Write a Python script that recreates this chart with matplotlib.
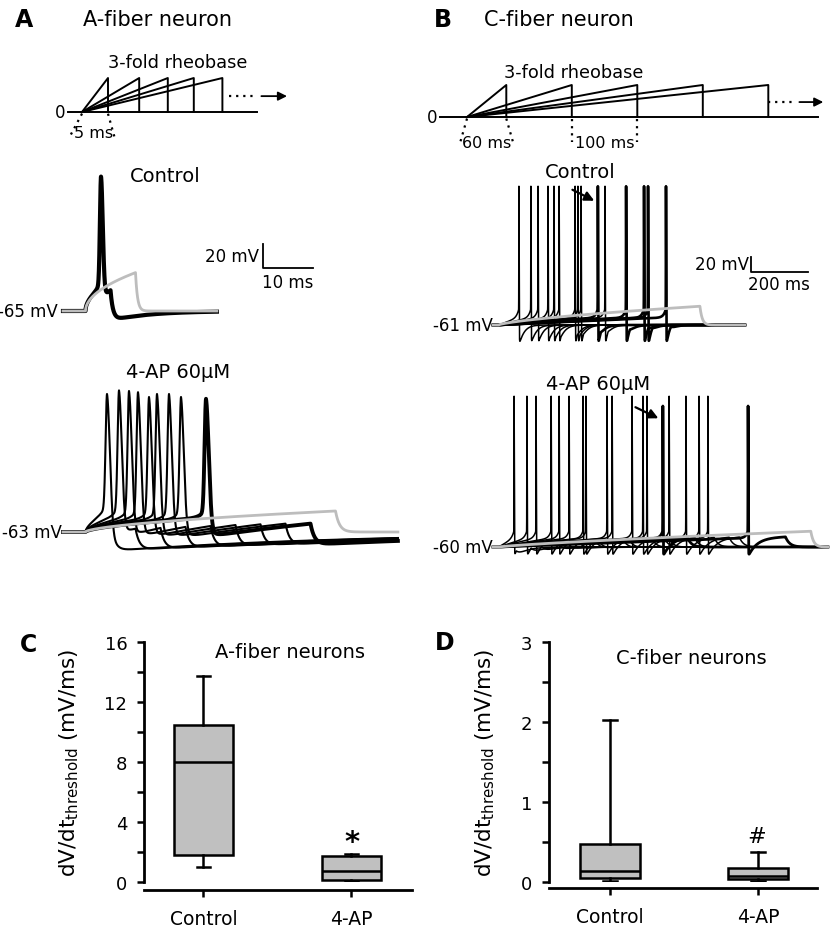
import numpy as np
import matplotlib.pyplot as plt
from matplotlib.ticker import MultipleLocator

W, H = 830, 929
plt.rcParams['font.family'] = 'DejaVu Sans'

# ---- stimulus protocols (ramp duration in ms, height in x rheobase) ----
stim_a_dur = [5, 11, 16.5, 21.5, 27]
stim_b_dur = [60, 160, 260, 360, 460]
STIM_HEIGHT = 3

# ---- A-fiber neuron traces (ms, mV) ----
A_CTRL_BASE = -65
A_CTRL_ON = 4.5
a_ctrl_dur = [5, 10]
a_ctrl_amp = [25, 32]
a_ctrl_spike_t = [7.6, None]
a_ctrl_peak = [47, None]

A_4AP_BASE = -63
A_4AP_ON = 4.5
a_4ap_dur = [5, 10, 15, 20, 25, 30, 35, 40, 45, 50]
a_4ap_spike_t = [8.8, 11.2, 13.2, 15.0, 17.2, 18.8, 21.2, 23.6, 28.6, None]
a_4ap_peak = [52, 55, 54.5, 53.5, 49.5, 52, 52, 49.5, 48, None]

# ---- C-fiber neuron traces (ms, mV) ----
C_CTRL_BASE = -61
C_ON = 20
c_ctrl_spike_t = [91, 133, 158, 193, 214, 232, 288, 298, 309, 368, 393, 467, 530, 544, 607]
c_ctrl_thick = [368, 467, 530, 544, 607]
C_CTRL_PEAK = 124
C_CTRL_GRAY = (706, 25)

C_4AP_BASE = -60
c_4ap_spike_t = [74, 119, 151, 204, 232, 267, 316, 326, 400, 418, 488, 526, 540,
                 596, 618, 677, 723, 754, 895]
c_4ap_thick = [596, 895]
C_4AP_PEAK = 141
C_4AP_PEAK_THICK = 128
C_4AP_GRAY = (1095, 21)

# ---- dV/dt at threshold (mV/ms): whislo, q1, median, q3, whishi ----
groups = ['Control', '4-AP']
a_fiber_stats = [(1.0, 1.8, 8.0, 10.5, 13.75), (0.05, 0.13, 0.73, 1.73, 1.88)]
c_fiber_stats = [(0.015, 0.05, 0.14, 0.47, 2.03), (0.015, 0.04, 0.07, 0.17, 0.37)]

GRAY = '#bdbdbd'
fig = plt.figure(figsize=(W / 100, H / 100), dpi=100)


def px_axes(box, xa, ya, sx, sy):
    # axes placed in pixel box, data mapped through anchor points and px/unit
    x0, y0, x1, y1 = box
    ax = fig.add_axes([x0 / W, 1 - y1 / H, (x1 - x0) / W, (y1 - y0) / H])
    ax.set_xlim(xa[1] + (x0 - xa[0]) / sx, xa[1] + (x1 - xa[0]) / sx)
    ax.set_ylim(ya[1] - (y1 - ya[0]) / sy, ya[1] + (ya[0] - y0) / sy)
    ax.axis('off')
    return ax


def ftext(x, y, s, **kw):
    kw.setdefault('ha', 'center')
    kw.setdefault('va', 'center')
    fig.text(x / W, 1 - y / H, s, **kw)


def sweep(t, base, on, dur, amp, expo, tau_off, spike=None):
    s = np.clip((t - on) / dur, 0, None)
    p = amp * np.minimum(s, 1) ** expo
    after = t > on + dur
    p = np.where(after, amp * np.exp(-np.clip(t - on - dur, 0, None) / tau_off), p)
    v = base + p
    if spike is not None:
        ts, peak, wr, wf, pre, tpre, ahp, tahp = spike
        d = t - ts
        dn = np.minimum(d, 0)
        dp = np.maximum(d, 0)
        vth = np.interp(ts, t, v) + pre
        h = peak - vth
        rise = pre * np.exp(dn / tpre) + h * np.exp(-(dn / wr) ** 2)
        fall = (h + pre) * np.exp(-(dp / wf) ** 2) - ahp * (1 - np.exp(-dp / wf)) * np.exp(-dp / tahp)
        v = v + np.where(d < 0, rise, fall)
    return v


def stim_panel(box, x0px, sx, y0px, sy, durs, t_left, t_right, dots, marks):
    ax = px_axes(box, (x0px, 0), (y0px, 0), sx, sy)
    ax.plot([t_left, t_right], [0, 0], color='k', lw=1.4)
    for d in durs:
        ax.plot([0, d, d], [0, STIM_HEIGHT, 0], color='k', lw=1.4)
    ax.plot(dots, [1.4, 1.4], color='k', lw=1.6, ls=(0, (1, 2.2)))
    ax.annotate('', xy=(dots[1] + (dots[1] - dots[0]) * 1.45, 1.4),
                xytext=(dots[1] + (dots[1] - dots[0]) * 0.2, 1.4),
                arrowprops=dict(arrowstyle='-|>', color='k', lw=1.3, mutation_scale=13))
    for tm, off in marks:
        ax.plot([tm, tm + off], [-0.15, -2.3], color='k', lw=1.6, ls=(0, (1, 2.2)))
    ax.text(t_left - 3 / sx, 0, '0', ha='right', va='center', fontsize=12)
    return ax


# ---------------- panel A/B stimulus ----------------
stim_panel((30, 40, 320, 150), 82, 5.2, 113, 11.33, stim_a_dur, -2.7, 33.6,
           [28.2, 33.0], [(0, -2.5), (5, 1.3)])
stim_panel((420, 40, 830, 160), 467, 0.655, 118, 10.67, stim_b_dur, -41, 536,
           [460, 496], [(0, -10), (60, 10), (160, 0), (260, 0)])

# ---------------- A control ----------------
ax = px_axes((0, 150, 340, 345), (63, 0), (312, A_CTRL_BASE), 5.0, 1.2)
t = np.arange(0, 30.8, 0.02)
for dur, amp, ts, pk in zip(a_ctrl_dur, a_ctrl_amp, a_ctrl_spike_t, a_ctrl_peak):
    if ts is None:
        continue
    v = sweep(t, A_CTRL_BASE, A_CTRL_ON, dur, amp, 0.5, 0.5,
              spike=(ts, pk, 0.3, 0.5, 8, 0.5, 10, 8))
    ax.plot(t, v, color='k', lw=3.0, solid_joinstyle='round')
for dur, amp, ts in zip(a_ctrl_dur, a_ctrl_amp, a_ctrl_spike_t):
    if ts is None:
        ax.plot(t, sweep(t, A_CTRL_BASE, A_CTRL_ON, dur, amp, 0.5, 0.4), color=GRAY, lw=2.0)
ax.text(-1, A_CTRL_BASE, '-65 mV', ha='right', va='center', fontsize=12)
ax.plot([40, 40, 50], [-9, -29, -29], color='k', lw=1.3)
ax.text(39.2, -19, '20 mV', ha='right', va='center', fontsize=12)
ax.text(45, -33, '10 ms', ha='center', va='top', fontsize=12)

# ---------------- A 4-AP ----------------
ax = px_axes((0, 370, 410, 570), (63, 0), (533, A_4AP_BASE), 5.0, 1.2)
t = np.arange(0, 67, 0.02)
for dur, ts, pk in zip(a_4ap_dur, a_4ap_spike_t, a_4ap_peak):
    if ts is None:
        continue
    v = sweep(t, A_4AP_BASE, A_4AP_ON, dur, 17.5, 0.6, 0.8,
              spike=(ts, pk, 0.4, 0.8, 8, 1.0, 16, 50))
    ax.plot(t, v, color='k', lw=2.8 if ts == a_4ap_spike_t[-2] else 1.5)
for dur, ts in zip(a_4ap_dur, a_4ap_spike_t):
    if ts is None:
        ax.plot(t, sweep(t, A_4AP_BASE, A_4AP_ON, dur, 17.5, 0.6, 0.8), color=GRAY, lw=2.0)
ax.text(-0.2, A_4AP_BASE, '-63 mV', ha='right', va='center', fontsize=12)

# ---------------- B control ----------------
ax = px_axes((420, 160, 830, 355), (493, 0), (326, C_CTRL_BASE), 0.285, 0.75)
t = np.arange(0, 884, 0.1)
for ts in c_ctrl_spike_t:
    dur = (ts - C_ON) * 1.03
    v = sweep(t, C_CTRL_BASE, C_ON, dur, 10 * 1.03, 1.0, 10,
              spike=(ts, C_CTRL_PEAK, 0.5, 1.0, 12, 8, 40, 15))
    ax.plot(t, v, color='k', lw=1.9 if ts in c_ctrl_thick else 1.1)
ax.plot(t, sweep(t, C_CTRL_BASE, C_ON, C_CTRL_GRAY[0], C_CTRL_GRAY[1], 0.7, 8), color=GRAY, lw=2.0)
ax.text(0, C_CTRL_BASE, '-61 mV', ha='right', va='center', fontsize=12)
ax.annotate('', xy=(c_ctrl_thick[0] - 4, C_CTRL_PEAK - 21), xytext=(c_ctrl_thick[0] - 98, C_CTRL_PEAK - 3),
            arrowprops=dict(arrowstyle='-|>', color='k', lw=1.6, mutation_scale=14))
ax.plot([905, 905, 1105], [29.7, 9.7, 9.7], color='k', lw=1.3)
ax.text(898, 19.7, '20 mV', ha='right', va='center', fontsize=12)
ax.text(1005, 5, '200 ms', ha='center', va='top', fontsize=12)

# ---------------- B 4-AP ----------------
ax = px_axes((420, 380, 830, 575), (493, 0), (548, C_4AP_BASE), 0.285, 0.75)
t = np.arange(0, 1175, 0.1)
for ts in c_4ap_spike_t:
    thick = ts in c_4ap_thick
    dur = (ts - C_ON) * 1.15
    v = sweep(t, C_4AP_BASE, C_ON, dur, 12 * 1.15, 1.0, 15,
              spike=(ts, C_4AP_PEAK_THICK if thick else C_4AP_PEAK, 0.5, 1.0, 10, 8, 25, 30))
    ax.plot(t, v, color='k', lw=2.0 if thick else 1.1)
ax.plot(t, sweep(t, C_4AP_BASE, C_ON, C_4AP_GRAY[0], C_4AP_GRAY[1], 0.8, 10), color=GRAY, lw=2.0)
ax.text(0, C_4AP_BASE, '-60 mV', ha='right', va='center', fontsize=12)
ax.annotate('', xy=(c_4ap_thick[0] - 7, C_4AP_PEAK_THICK - 18), xytext=(c_4ap_thick[0] - 105, C_4AP_PEAK_THICK),
            arrowprops=dict(arrowstyle='-|>', color='k', lw=1.6, mutation_scale=14))

# ---------------- texts top ----------------
ftext(24, 20, 'A', fontsize=17, fontweight='bold')
ftext(83, 20, 'A-fiber neuron', fontsize=15, ha='left')
ftext(443, 20, 'B', fontsize=17, fontweight='bold')
ftext(484, 20, 'C-fiber neuron', fontsize=15, ha='left')
ftext(178, 63, '3-fold rheobase', fontsize=12.8)
ftext(574, 73, '3-fold rheobase', fontsize=12.8)
ftext(94, 134, '5 ms', fontsize=11.5)
ftext(487, 143, '60 ms', fontsize=11.5)
ftext(605, 143, '100 ms', fontsize=11.5)
ftext(165, 177, 'Control', fontsize=14)
ftext(580, 172, 'Control', fontsize=14)
ftext(178, 373, '4-AP 60μM', fontsize=14)
ftext(598, 385, '4-AP 60μM', fontsize=14)


# ---------------- box plots ----------------
def box_panel(box, ylim, major, minor, stats, left, title, title_xy, mark, mark_xy, out_px, lab_x):
    x0, y0, x1, y1 = box
    ax = fig.add_axes([x0 / W, 1 - y1 / H, (x1 - x0) / W, (y1 - y0) / H])
    bxp_stats = [dict(whislo=s[0], q1=s[1], med=s[2], q3=s[3], whishi=s[4], label=g)
                 for s, g in zip(stats, groups)]
    ax.bxp(bxp_stats, positions=[1, 2], widths=0.4, capwidths=0.09, showfliers=False,
           patch_artist=True,
           boxprops=dict(facecolor='#c0c0c0', edgecolor='k', lw=1.8),
           medianprops=dict(color='k', lw=1.8),
           whiskerprops=dict(color='k', lw=1.8),
           capprops=dict(color='k', lw=1.8))
    ax.set_xlim(left, left + (x1 - x0) / 148)
    ax.set_ylim(*ylim)
    ax.yaxis.set_major_locator(MultipleLocator(major))
    ax.yaxis.set_minor_locator(MultipleLocator(minor))
    ax.set_yticklabels([f'{v:g}' for v in ax.get_yticks()])
    ax.tick_params(axis='y', which='both', length=5, width=1.8, pad=7, labelsize=13)
    ax.tick_params(axis='x', length=5, width=1.8, pad=9, labelsize=13.5)
    for sp in ('top', 'right'):
        ax.spines[sp].set_visible(False)
    ax.spines['left'].set_linewidth(2.0)
    ax.spines['bottom'].set_linewidth(2.0)
    ax.spines['bottom'].set_position(('outward', out_px * 0.72))
    ax.set_ylabel(r'dV/dt$_{\mathregular{threshold}}$ (mV/ms)', fontsize=15.5)
    ax.yaxis.set_label_coords(lab_x, 0.5)
    ax.patch.set_visible(False)
    ftext(*title_xy, title, fontsize=14)
    ftext(*mark_xy, mark, fontsize=16 if mark == '#' else 21, fontweight='bold' if mark == '*' else 'normal')
    return ax


box_panel((144, 643, 412, 883), (0, 16), 4, 2, a_fiber_stats, 0.598,
          'A-fiber neurons', (290, 653), '*', (352, 843), 8, -0.235)
box_panel((549, 643, 817, 883), (0, 3), 1, 0.5, c_fiber_stats, 0.588,
          'C-fiber neurons', (691, 658), '#', (757, 837), 6, -0.195)
ftext(28, 645, 'C', fontsize=17, fontweight='bold')
ftext(445, 643, 'D', fontsize=17, fontweight='bold')

fig.savefig('out.png', dpi=100)
